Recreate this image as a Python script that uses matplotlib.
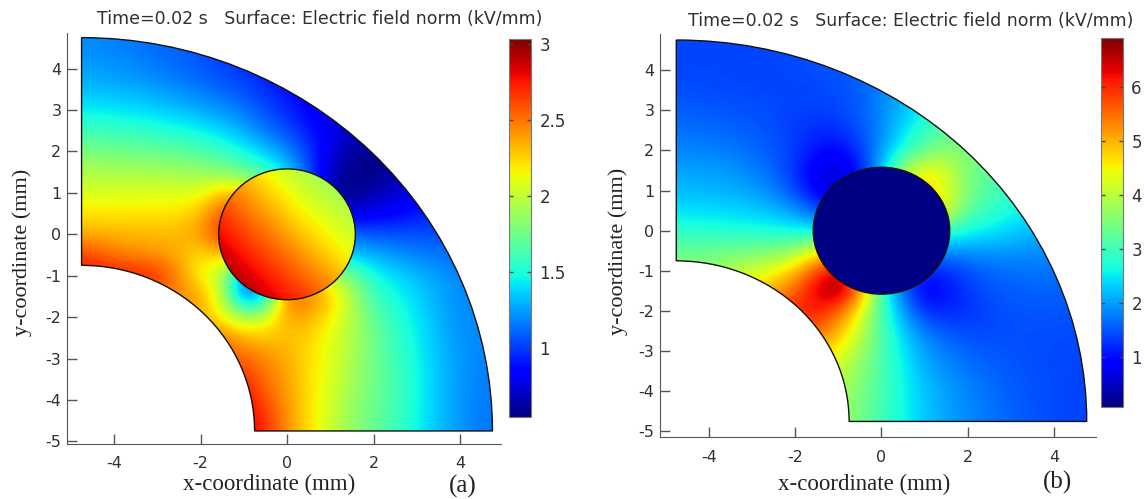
import numpy as np
import matplotlib
matplotlib.use("Agg")
import matplotlib.pyplot as plt
from matplotlib.patches import Wedge, Circle

W, H = 1144, 499

TITLE = "Time=0.02 s   Surface: Electric field norm (kV/mm)"
X_TICKS = [-4, -2, 0, 2, 4]
Y_TICKS = [-5, -4, -3, -2, -1, 0, 1, 2, 3, 4]

CBAR_A_TICKS = [1, 1.5, 2, 2.5, 3]
CBAR_A_LABELS = ["1", "1.5", "2", "2.5", "3"]
CBAR_A_RANGE = (0.546, 3.03)
CBAR_B_TICKS = [1, 2, 3, 4, 5, 6]
CBAR_B_RANGE = (0.07, 6.9)

# field, rows y = 5 ... -5, columns x = -5 ... 5, step 0.5
FIELD_A = [
    [1.2, 1.2, 1.18, 1.15, 1.12, 1.1, 1.05, 1.0, .95, .9, .85, .8, .8, .75, .7, .7, .7, .7, .7, .7, .7],
    [1.2, 1.2, 1.18, 1.15, 1.12, 1.1, 1.05, 1.0, .95, .9, .85, .8, .8, .75, .7, .7, .7, .7, .7, .7, .7],
    [1.25, 1.25, 1.22, 1.2, 1.15, 1.12, 1.08, 1.03, .98, .92, .85, .8, .75, .7, .7, .7, .7, .7, .7, .7, .7],
    [1.32, 1.32, 1.3, 1.28, 1.25, 1.2, 1.15, 1.1, 1.05, .97, .9, .82, .75, .7, .68, .68, .68, .68, .68, .68, .68],
    [1.45, 1.43, 1.42, 1.4, 1.37, 1.33, 1.28, 1.22, 1.15, 1.05, .95, .85, .75, .7, .65, .65, .65, .65, .65, .65, .65],
    [1.6, 1.6, 1.58, 1.56, 1.53, 1.5, 1.45, 1.38, 1.28, 1.15, 1.05, .92, .8, .68, .62, .62, .66, .7, .7, .7, .7],
    [1.8, 1.78, 1.76, 1.75, 1.72, 1.7, 1.65, 1.58, 1.48, 1.35, 1.2, 1.0, .78, .62, .58, .6, .65, .7, .72, .72, .72],
    [1.95, 1.93, 1.92, 1.92, 1.92, 1.9, 1.87, 1.82, 1.72, 1.6, 1.4, 1.05, .7, .56, .56, .6, .68, .73, .76, .78, .78],
    [2.08, 2.07, 2.07, 2.08, 2.08, 2.08, 2.1, 2.3, 2.3, 2.1, 1.7, 1.1, .6, .56, .65, .73, .8, .85, .88, .9, .9],
    [2.2, 2.2, 2.2, 2.2, 2.2, 2.22, 2.3, 2.6, 2.6, 2.3, 1.8, 1.3, .8, .75, .8, .85, .9, .95, 1.0, 1.0, 1.0],
    [2.35, 2.35, 2.33, 2.32, 2.32, 2.32, 2.4, 2.7, 2.7, 2.3, 1.9, 1.5, 1.2, 1.12, 1.08, 1.06, 1.05, 1.05, 1.05, 1.05, 1.05],
    [2.65, 2.62, 2.5, 2.45, 2.4, 2.35, 2.2, 2.3, 2.3, 2.1, 1.9, 1.6, 1.4, 1.35, 1.28, 1.23, 1.18, 1.15, 1.12, 1.12, 1.12],
    [2.75, 2.75, 2.75, 2.75, 2.7, 2.45, 2.12, 1.98, 1.0, 1.6, 2.0, 2.2, 2.0, 1.75, 1.5, 1.4, 1.32, 1.25, 1.18, 1.18, 1.18],
    [2.7, 2.7, 2.7, 2.6, 2.5, 2.45, 2.4, 2.0, 1.1, 1.3, 2.6, 2.5, 2.3, 1.95, 1.6, 1.48, 1.38, 1.28, 1.2, 1.2, 1.2],
    [2.4, 2.4, 2.4, 2.4, 2.4, 2.4, 2.3, 2.15, 1.9, 2.05, 2.35, 2.35, 2.18, 1.95, 1.72, 1.55, 1.42, 1.3, 1.2, 1.2, 1.2],
    [2.5, 2.5, 2.5, 2.5, 2.5, 2.5, 2.5, 2.5, 2.35, 2.28, 2.3, 2.25, 2.1, 1.95, 1.75, 1.58, 1.45, 1.32, 1.22, 1.2, 1.2],
    [2.55, 2.55, 2.55, 2.55, 2.55, 2.55, 2.55, 2.55, 2.55, 2.45, 2.35, 2.22, 2.1, 1.93, 1.75, 1.6, 1.47, 1.33, 1.23, 1.18, 1.18],
    [2.7, 2.7, 2.7, 2.7, 2.7, 2.7, 2.7, 2.7, 2.7, 2.5, 2.38, 2.22, 2.08, 1.9, 1.76, 1.62, 1.48, 1.33, 1.23, 1.17, 1.17],
    [2.8, 2.8, 2.8, 2.8, 2.8, 2.8, 2.8, 2.8, 2.8, 2.6, 2.4, 2.22, 2.05, 1.88, 1.75, 1.62, 1.48, 1.33, 1.23, 1.16, 1.16],
    [2.85, 2.85, 2.85, 2.85, 2.85, 2.85, 2.85, 2.85, 2.85, 2.7, 2.42, 2.22, 2.03, 1.85, 1.73, 1.6, 1.47, 1.33, 1.23, 1.15, 1.15],
    [2.85, 2.85, 2.85, 2.85, 2.85, 2.85, 2.85, 2.85, 2.85, 2.7, 2.42, 2.22, 2.03, 1.85, 1.73, 1.6, 1.47, 1.33, 1.23, 1.15, 1.15],
]

FIELD_B = [
    [1.4, 1.4, 1.4, 1.4, 1.4, 1.4, 1.42, 1.45, 1.5, 1.6, 1.7, 1.9, 2.0, 2.1, 2.2, 2.2, 2.2, 2.2, 2.2, 2.2, 2.2],
    [1.4, 1.4, 1.4, 1.4, 1.4, 1.4, 1.42, 1.45, 1.5, 1.6, 1.7, 1.9, 2.0, 2.1, 2.2, 2.2, 2.2, 2.2, 2.2, 2.2, 2.2],
    [1.4, 1.4, 1.4, 1.4, 1.4, 1.4, 1.42, 1.45, 1.5, 1.6, 1.75, 2.0, 2.2, 2.4, 2.5, 2.5, 2.5, 2.5, 2.5, 2.5, 2.5],
    [1.45, 1.45, 1.43, 1.4, 1.4, 1.38, 1.38, 1.4, 1.45, 1.55, 1.8, 2.1, 2.4, 2.6, 2.8, 2.8, 2.8, 2.8, 2.8, 2.8, 2.8],
    [1.55, 1.55, 1.52, 1.5, 1.47, 1.43, 1.38, 1.35, 1.38, 1.55, 1.85, 2.2, 2.6, 2.9, 3.1, 3.1, 3.1, 3.1, 3.1, 3.1, 3.1],
    [1.7, 1.68, 1.65, 1.6, 1.55, 1.45, 1.32, 1.2, 1.25, 1.45, 1.85, 2.4, 2.9, 3.2, 3.4, 3.5, 3.5, 3.5, 3.5, 3.5, 3.5],
    [1.85, 1.82, 1.8, 1.75, 1.65, 1.52, 1.35, 1.0, .9, 1.3, 1.95, 2.7, 3.3, 3.6, 3.5, 3.4, 3.3, 3.3, 3.3, 3.3, 3.3],
    [2.05, 2.02, 2.0, 1.95, 1.8, 1.6, 1.25, .75, .6, 1.0, 2.2, 3.9, 4.5, 4.2, 3.5, 3.2, 3.05, 3.0, 3.0, 3.0, 3.0],
    [2.2, 2.18, 2.15, 2.1, 2.02, 1.8, 1.42, .8, .5, 1.0, 2.4, 3.6, 5.0, 4.3, 3.5, 3.1, 2.9, 2.75, 2.7, 2.7, 2.7],
    [2.45, 2.42, 2.4, 2.38, 2.3, 2.2, 1.95, 1.5, 1.2, 1.5, 2.4, 3.4, 4.3, 4.4, 3.2, 2.9, 2.65, 2.5, 2.4, 2.4, 2.4],
    [2.85, 2.8, 2.75, 2.72, 2.7, 2.65, 2.6, 2.5, 2.4, 2.4, 2.4, 2.6, 2.9, 2.9, 2.65, 2.5, 2.35, 2.2, 2.1, 2.05, 2.05],
    [3.3, 3.3, 3.35, 3.4, 3.45, 3.5, 3.7, 4.4, 4.6, 3.6, 2.4, 2.0, 1.9, 1.9, 1.95, 1.95, 1.95, 1.9, 1.85, 1.8, 1.8],
    [3.6, 3.6, 3.6, 3.9, 4.1, 4.4, 4.9, 5.8, 6.6, 5.0, 2.6, 1.5, 1.15, 1.2, 1.45, 1.6, 1.68, 1.7, 1.7, 1.7, 1.7],
    [4.5, 4.5, 4.5, 4.5, 4.8, 5.1, 5.6, 6.4, 6.8, 5.5, 3.0, 1.6, .8, 1.0, 1.3, 1.48, 1.55, 1.58, 1.58, 1.58, 1.58],
    [5.6, 5.6, 5.6, 5.6, 5.6, 5.6, 6.0, 6.1, 5.6, 4.5, 3.0, 2.0, 1.25, 1.15, 1.25, 1.38, 1.48, 1.5, 1.5, 1.48, 1.48],
    [5.6, 5.6, 5.6, 5.6, 5.6, 5.6, 5.6, 5.6, 5.0, 4.1, 3.1, 2.3, 1.75, 1.5, 1.42, 1.42, 1.45, 1.45, 1.45, 1.42, 1.42],
    [4.8, 4.8, 4.8, 4.8, 4.8, 4.8, 4.8, 4.8, 4.5, 3.8, 3.1, 2.5, 2.0, 1.75, 1.6, 1.52, 1.48, 1.45, 1.42, 1.4, 1.4],
    [4.3, 4.3, 4.3, 4.3, 4.3, 4.3, 4.3, 4.3, 4.1, 3.6, 3.1, 2.55, 2.15, 1.9, 1.72, 1.6, 1.52, 1.46, 1.42, 1.38, 1.38],
    [4.0, 4.0, 4.0, 4.0, 4.0, 4.0, 4.0, 4.0, 3.9, 3.5, 3.05, 2.6, 2.25, 2.0, 1.82, 1.68, 1.56, 1.48, 1.42, 1.38, 1.38],
    [3.9, 3.9, 3.9, 3.9, 3.9, 3.9, 3.9, 3.9, 3.8, 3.45, 3.0, 2.6, 2.28, 2.02, 1.85, 1.72, 1.58, 1.5, 1.42, 1.38, 1.38],
    [3.9, 3.9, 3.9, 3.9, 3.9, 3.9, 3.9, 3.9, 3.8, 3.45, 3.0, 2.6, 2.28, 2.02, 1.85, 1.72, 1.58, 1.5, 1.42, 1.38, 1.38],
]

# inclusion of panel (a), rows y = 2 ... -2, columns x = -2 ... 2, step 0.8
DISC_A = [
    [2.45, 2.2, 2.0, 1.85, 1.7, 1.6],
    [2.65, 2.42, 2.2, 2.0, 1.88, 1.75],
    [2.82, 2.6, 2.4, 2.17, 2.03, 1.9],
    [2.98, 2.78, 2.58, 2.38, 2.16, 2.0],
    [3.05, 2.95, 2.78, 2.58, 2.38, 2.18],
    [3.05, 3.05, 2.92, 2.78, 2.58, 2.38],
]
DISC_B = 0.1

# geometry
CX, CY = -4.75, -4.75
R_OUT, R_IN = 9.5, 4.0
R_DISC = 1.58

plt.rcParams["font.family"] = "DejaVu Sans"
plt.rcParams["axes.unicode_minus"] = False
SERIF = "Liberation Serif"
DARK = "#303030"

fig = plt.figure(figsize=(W / 100, H / 100), dpi=100)


def px_axes(left, top, right, bottom):
    return fig.add_axes([left / W, 1 - bottom / H, (right - left) / W, (bottom - top) / H])


def panel(box, xlim, ylim, field, disc, cbox, crange, cticks, clabels):
    ax = px_axes(*box)
    norm = plt.Normalize(*crange)

    domain = Wedge((CX, CY), R_OUT, 0, 90, width=R_OUT - R_IN, fc="none", ec="#111111", lw=1.0, zorder=4)
    ax.add_patch(domain)
    im = ax.imshow(np.array(field), extent=(-5.25, 5.25, -5.25, 5.25), cmap="jet", norm=norm,
                   interpolation="bicubic", interpolation_stage="data", aspect="auto", zorder=1)
    im.set_clip_path(domain)

    ring = Circle((0, 0), R_DISC, fc="none", ec="#111111", lw=1.0, zorder=4)
    ax.add_patch(ring)
    if np.ndim(disc) == 2:
        dm = ax.imshow(np.array(disc), extent=(-2.4, 2.4, -2.4, 2.4), cmap="jet", norm=norm,
                       interpolation="bicubic", interpolation_stage="data", aspect="auto", zorder=2)
        dm.set_clip_path(ring)
    else:
        ax.add_patch(Circle((0, 0), R_DISC, fc=plt.cm.jet(norm(disc)), ec="none", zorder=2))

    ax.set_xlim(*xlim)
    ax.set_ylim(*ylim)
    ax.set_xticks(X_TICKS)
    ax.set_yticks(Y_TICKS)
    ax.tick_params(direction="in", length=7, width=1, color="#555555", labelsize=11.5, labelcolor=DARK)
    ax.tick_params(axis="x", pad=9)
    ax.tick_params(axis="y", pad=4)
    for s in ["top", "right"]:
        ax.spines[s].set_visible(False)
    for s in ["left", "bottom"]:
        ax.spines[s].set_color("#555555")

    cax = px_axes(*cbox)
    sm = plt.cm.ScalarMappable(norm=norm, cmap="jet")
    cb = fig.colorbar(sm, cax=cax, ticks=cticks)
    cb.ax.set_yticklabels(clabels)
    cb.ax.tick_params(direction="in", left=True, right=True, length=3, width=1, color="#444444",
                      labelsize=12, labelcolor=DARK, pad=6)
    cb.outline.set_edgecolor("#777777")
    cb.outline.set_linewidth(0.8)
    return ax


panel((67, 33, 501, 444), (-5.087, 4.948), (-5.065, 4.862), FIELD_A, DISC_A,
      (509, 39, 531, 417), CBAR_A_RANGE, CBAR_A_TICKS, CBAR_A_LABELS)
panel((660, 34, 1096, 437), (-5.127, 4.965), (-5.138, 4.9), FIELD_B, DISC_B,
      (1101, 38, 1123, 407), CBAR_B_RANGE, CBAR_B_TICKS, [str(t) for t in CBAR_B_TICKS])


def label(x, y, s, **kw):
    fig.text(x / W, 1 - y / H, s, ha="center", va="center", **kw)


label(320, 19, TITLE, fontsize=12.5, color=DARK)
label(911, 21, TITLE, fontsize=12.5, color=DARK)
serif = dict(family=SERIF, color="#222222")
label(269, 484, "x-coordinate (mm)", fontsize=16.5, **serif)
label(864, 484, "x-coordinate (mm)", fontsize=16.5, **serif)
label(22, 252, "y-coordinate (mm)", fontsize=16, rotation=90, **serif)
label(618, 251, "y-coordinate (mm)", fontsize=16, rotation=90, **serif)
label(463, 486, "(a)", fontsize=18, **serif)
label(1057, 482, "(b)", fontsize=18, **serif)

fig.savefig("out.png", dpi=100)
